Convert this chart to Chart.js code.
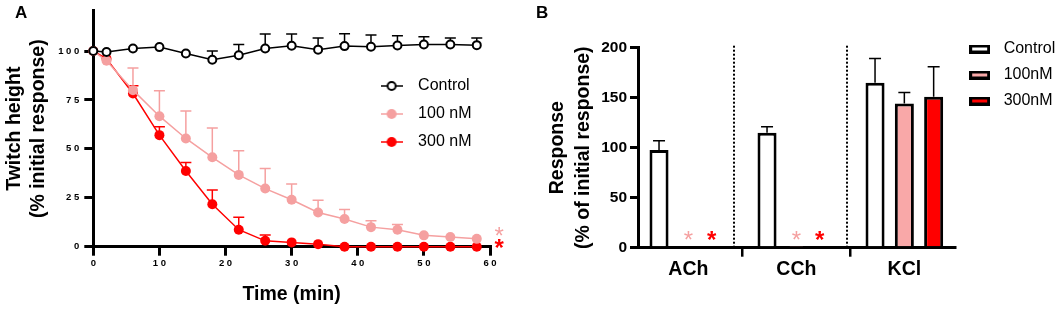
<!DOCTYPE html>
<html><head><meta charset="utf-8">
<script src="https://cdn.jsdelivr.net/npm/chart.js@4.4.1/dist/chart.umd.min.js"></script>
<style>
html,body{margin:0;padding:0;background:#fff;}
#wrap{position:relative;width:1059px;height:309px;overflow:hidden;background:#fff;}
#chartA{position:absolute;left:0;top:0;}
#chartB{position:absolute;left:520px;top:0;}
</style></head><body>
<div id="wrap">
<canvas id="chartA" width="520" height="309"></canvas>
<canvas id="chartB" width="539" height="309"></canvas>
</div>
<script>
// ---------- Panel A data ----------
const timeMin = [0,2,6,10,14,18,22,26,30,34,38,42,46,50,54,58];
const twitchControl = [100,99.5,101.3,102,98.7,95.5,97.8,101.3,102.7,100.7,102.5,102.2,102.8,103.3,103.3,103];
const twitchControlErr = [0,0,0,0,0,4.5,5.5,7.4,6,6,6.3,6,5,4,3.3,3.7];
const twitch100 = [100,95,80,66.7,55.3,45.7,36.7,29.7,24,17.5,14.2,10,8.7,5.8,5,4];
const twitch100Err = [0,0,11.3,13,14,15,12.3,10.3,8,6.3,4.8,3.3,2.6,0,0,0];
const twitch300 = [100,96,78.3,57,38.7,21.7,8.7,3,2.2,1.3,0,0,0,0,0,0];
const twitch300Err = [0,0,4,4.3,4.3,7.3,6.3,3,0,0,0,0,0,0,0,0];
const timeTicks = [0,10,20,30,40,50,60];
const twitchTicks = [0,25,50,75,100];
const seriesNamesA = ['Control','100 nM','300 nM'];

// ---------- Panel B data ----------
const agonists = ['ACh','CCh','KCl'];
const respControl = [97.7,115,165];
const respControlErr = [9.3,6,24.3];
const resp100 = [0,1,144.3];
const resp100Err = [0,0,11];
const resp300 = [0,0,151];
const resp300Err = [0,0,30];
const respTicks = [0,50,100,150,200];
const seriesNamesB = ['Control','100nM','300nM'];

// ---------- styles ----------
const FONT = "'Liberation Sans', Arial, Helvetica, sans-serif";
const PINK = '#F5A0A0';
const PINK_BAR = '#F9A8A8';
const RED = '#FF0000';
Chart.defaults.font.family = FONT;
Chart.defaults.color = '#000';
Chart.defaults.animation = false;

function drawErrBars(chart, opts) {
  const ctx = chart.ctx, ys = chart.scales.y;
  chart.data.datasets.forEach((ds, i) => {
    const errs = ds.errUp; if (!errs) return;
    const meta = chart.getDatasetMeta(i);
    ctx.save();
    ctx.strokeStyle = ds.errColor || '#000';
    ctx.lineWidth = opts.lineWidth;
    meta.data.forEach((el, j) => {
      const e = errs[j]; if (!e) return;
      const raw = ds.data[j]; const v = (typeof raw === 'object') ? raw.y : raw;
      const yTop = ys.getPixelForValue(v + e);
      const x = el.x, y0 = el.y;
      ctx.beginPath();
      ctx.moveTo(x, y0); ctx.lineTo(x, yTop);
      ctx.moveTo(x - opts.cap / 2, yTop); ctx.lineTo(x + opts.cap / 2, yTop);
      ctx.stroke();
    });
    ctx.restore();
  });
}
const errorBars = {
  id: 'errorBars',
  beforeDatasetsDraw(chart, args, opts) { if (opts.behind) drawErrBars(chart, opts); },
  afterDatasetsDraw(chart, args, opts) { if (!opts.behind) drawErrBars(chart, opts); }
};
const legendPos = {
  id: 'legendPos',
  beforeDraw(chart, args, opts) {
    const lg = chart.legend; if (!lg) return;
    const w = lg.width, h = lg.height;
    lg.left = opts.x; lg.top = opts.y; lg.right = opts.x + w; lg.bottom = opts.y + h;
  }
};
function drawStar(ctx, x, y, color, size, bold) {
  ctx.save();
  ctx.font = (bold ? 'bold ' : '') + size + 'px ' + FONT;
  ctx.fillStyle = color; ctx.textAlign = 'center'; ctx.textBaseline = 'alphabetic';
  const m = ctx.measureText('*');
  const off = (m.actualBoundingBoxAscent - m.actualBoundingBoxDescent) / 2;
  ctx.fillText('*', x, y + off);
  ctx.restore();
}
const annotations = {
  id: 'annotations',
  beforeDatasetsDraw(chart, args, opts) {
    const ctx = chart.ctx;
    (opts.separators || []).forEach(s => {
      const x = Math.round(chart.scales.x.getPixelForValue(s));
      ctx.save();
      ctx.strokeStyle = '#000'; ctx.lineWidth = 2; ctx.setLineDash([2, 2]);
      ctx.beginPath();
      ctx.moveTo(x, chart.scales.y.getPixelForValue(opts.sepTop));
      ctx.lineTo(x, chart.scales.y.getPixelForValue(0));
      ctx.stroke(); ctx.restore();
    });
  },
  afterDatasetsDraw(chart, args, opts) {
    const ctx = chart.ctx;
    (opts.stars || []).forEach(s => {
      let x;
      if (s.ds !== undefined) x = chart.getDatasetMeta(s.ds).data[s.cat].x + (s.dx || 0);
      else x = chart.scales.x.getPixelForValue(s.x);
      const y = chart.scales.y.getPixelForValue(s.y);
      drawStar(ctx, x, y, s.color, opts.starSize, s.bold);
    });
  },
  afterDraw(chart, args, opts) {
    const ctx = chart.ctx;
    ctx.save();
    ctx.font = 'bold 17px ' + FONT; ctx.fillStyle = '#000';
    ctx.textAlign = 'left'; ctx.textBaseline = 'alphabetic';
    ctx.fillText(opts.letter, opts.lx, opts.ly);
    ctx.restore();
  }
};

function lineMarkerImg(color, fill, r, bw) {
  const c = document.createElement('canvas'); c.width = 22; c.height = 14;
  const g = c.getContext('2d');
  g.strokeStyle = color; g.lineWidth = 1.5;
  g.beginPath(); g.moveTo(0, 7); g.lineTo(22, 7); g.stroke();
  g.beginPath(); g.arc(11, 7, r, 0, Math.PI * 2); g.fillStyle = fill; g.fill();
  if (bw) { g.lineWidth = bw; g.strokeStyle = color; g.stroke(); }
  return c;
}
function boxImg(fill) {
  const c = document.createElement('canvas'); c.width = 21; c.height = 9;
  const g = c.getContext('2d');
  g.fillStyle = fill; g.fillRect(0, 0, 21, 9);
  g.strokeStyle = '#000'; g.lineWidth = 3; g.strokeRect(1.5, 1.5, 18, 6);
  return c;
}
const legendImgsA = [lineMarkerImg('#000', '#fff', 4, 2), lineMarkerImg(PINK, PINK, 5, 0), lineMarkerImg(RED, RED, 5, 0)];
const legendImgsB = [boxImg('#fff'), boxImg(PINK_BAR), boxImg(RED)];

const spaced = v => String(v).split('').join(' ');

// ---------- Chart A ----------
new Chart(document.getElementById('chartA'), {
  type: 'line',
  data: {
    datasets: [
      { label: seriesNamesA[0], data: timeMin.map((t, i) => ({x: t, y: twitchControl[i]})), errUp: twitchControlErr, errColor: '#000',
        borderColor: '#000', borderWidth: 1.5, pointRadius: 4, pointBorderWidth: 2, pointBackgroundColor: '#fff', pointBorderColor: '#000', order: 1, clip: false },
      { label: seriesNamesA[1], data: timeMin.map((t, i) => ({x: t, y: twitch100[i]})), errUp: twitch100Err, errColor: PINK,
        borderColor: PINK, borderWidth: 1.5, pointRadius: 5, pointBorderWidth: 0, pointBackgroundColor: PINK, pointBorderColor: PINK, order: 2, clip: false },
      { label: seriesNamesA[2], data: timeMin.map((t, i) => ({x: t, y: twitch300[i]})), errUp: twitch300Err, errColor: RED,
        borderColor: RED, borderWidth: 1.5, pointRadius: 5, pointBorderWidth: 0, pointBackgroundColor: RED, pointBorderColor: RED, order: 3, clip: false }
    ]
  },
  options: {
    responsive: false,
    animation: false,
    layout: { padding: { left: 0, top: 5.5, right: 30, bottom: 0 } },
    scales: {
      x: {
        type: 'linear', min: 0, max: 60,
        afterBuildTicks: s => { s.ticks = timeTicks.map(v => ({value: v})); },
        afterFit: s => { s.height = 309 - 246.7; },
        border: { display: true, color: '#000', width: 3 },
        grid: { display: true, drawOnChartArea: false, drawTicks: true, tickLength: 9, color: '#000', lineWidth: 3 },
        ticks: { padding: 2, font: { size: 9.5, weight: 'bold' }, color: '#000', callback: spaced, maxRotation: 0, autoSkip: false },
        title: { display: true, text: 'Time (min)', color: '#000', font: { size: 19.5, weight: 'bold', lineHeight: 1.2 }, padding: { top: 0, bottom: 2.3 } }
      },
      y: {
        type: 'linear', min: 0, max: 120.6,
        afterBuildTicks: s => { s.ticks = twitchTicks.map(v => ({value: v})); },
        afterFit: s => { s.width = 93.3; },
        border: { display: true, color: '#000', width: 3 },
        grid: { display: true, drawOnChartArea: false, drawTicks: true, tickLength: 9, color: '#000', lineWidth: 3 },
        ticks: { padding: 5, font: { size: 9.5, weight: 'bold' }, color: '#000', callback: spaced },
        title: { display: true, text: ['Twitch height', '(% initial response)'], color: '#000', font: { size: 19.5, weight: 'bold', lineHeight: 1.2 }, padding: { top: 3.3, bottom: 0 } }
      }
    },
    plugins: {
      tooltip: { enabled: false },
      legend: {
        display: true, position: 'chartArea', align: 'start',
        labels: {
          usePointStyle: true, pointStyleWidth: 37, padding: 12, color: '#000',
          font: { size: 16 },
          generateLabels: chart => chart.data.datasets.map((ds, i) => ({
            text: ds.label, pointStyle: legendImgsA[i], fillStyle: ds.borderColor, strokeStyle: ds.borderColor,
            lineWidth: 0, hidden: false, datasetIndex: i, fontColor: '#000'
          }))
        }
      },
      legendPos: { x: 361.1, y: 66 },
      errorBars: { behind: true, lineWidth: 1.5, cap: 11 },
      annotations: {
        letter: 'A', lx: 15, ly: 18, starSize: 24,
        stars: [ { x: 61.4, y: 7.7, color: PINK, bold: false }, { x: 61.4, y: 1.5, color: RED, bold: true } ]
      }
    }
  },
  plugins: [errorBars, legendPos, annotations]
});

// ---------- Chart B ----------
new Chart(document.getElementById('chartB'), {
  type: 'bar',
  data: {
    datasets: [
      { label: seriesNamesB[0], data: respControl.map((v, i) => ({x: i, y: v})), errUp: respControlErr, backgroundColor: '#fff' },
      { label: seriesNamesB[1], data: resp100.map((v, i) => ({x: i, y: v})), errUp: resp100Err, backgroundColor: PINK_BAR },
      { label: seriesNamesB[2], data: resp300.map((v, i) => ({x: i, y: v})), errUp: resp300Err, backgroundColor: RED }
    ].map(d => Object.assign(d, { borderColor: '#000', borderWidth: 3, borderSkipped: 'start', categoryPercentage: 0.814, barPercentage: 0.65, errColor: '#000' }))
  },
  options: {
    responsive: false,
    animation: false,
    layout: { padding: { left: 0, top: 47.7, right: 104, bottom: 0 } },
    scales: {
      x: {
        type: 'linear', min: -0.466, max: 2.469, offset: false,
        afterBuildTicks: s => { s.ticks = agonists.map((_, i) => ({value: i})); },
        afterFit: s => { s.height = 309 - 247.7; },
        border: { display: true, color: '#000', width: 3 },
        grid: { display: true, drawOnChartArea: false, drawTicks: true, tickLength: 9, color: '#000', lineWidth: 2.5 },
        ticks: { padding: 1.6, font: { size: 19.5, weight: 'bold' }, color: '#000', callback: v => agonists[v], maxRotation: 0, autoSkip: false }
      },
      y: {
        type: 'linear', min: 0, max: 200,
        afterBuildTicks: s => { s.ticks = respTicks.map(v => ({value: v})); },
        afterFit: s => { s.width = 118; },
        border: { display: true, color: '#000', width: 3 },
        grid: { display: true, drawOnChartArea: false, drawTicks: true, tickLength: 8, color: '#000', lineWidth: 3 },
        ticks: { padding: 3, font: { size: 15.5, weight: 'bold' }, color: '#000' },
        title: { display: true, text: ['Response', '(% of initial response)'], color: '#000', font: { size: 19.5, weight: 'bold', lineHeight: 1.35 }, padding: { top: 24.3, bottom: 0 } }
      }
    },
    plugins: {
      tooltip: { enabled: false },
      legend: {
        display: true, position: 'chartArea', align: 'start',
        labels: {
          usePointStyle: true, pointStyleWidth: 32, padding: 10, color: '#000',
          font: { size: 16 },
          generateLabels: chart => chart.data.datasets.map((ds, i) => ({
            text: ds.label, pointStyle: legendImgsB[i], fillStyle: ds.backgroundColor, strokeStyle: '#000',
            lineWidth: 0, hidden: false, datasetIndex: i, fontColor: '#000'
          }))
        }
      },
      legendPos: { x: 433.65, y: 31 },
      errorBars: { behind: false, lineWidth: 1.5, cap: 12 },
      annotations: {
        letter: 'B', lx: 16, ly: 18, starSize: 24, separators: [0.423, 1.466], sepTop: 202,
        stars: [
          { cat: 0, ds: 1, y: 12.7, color: PINK, bold: false },
          { cat: 0, ds: 2, dx: -6, y: 12.7, color: RED, bold: true },
          { cat: 1, ds: 1, y: 12.7, color: PINK, bold: false },
          { cat: 1, ds: 2, dx: -6, y: 12.7, color: RED, bold: true }
        ]
      }
    }
  },
  plugins: [errorBars, legendPos, annotations]
});
</script>
</body></html>
